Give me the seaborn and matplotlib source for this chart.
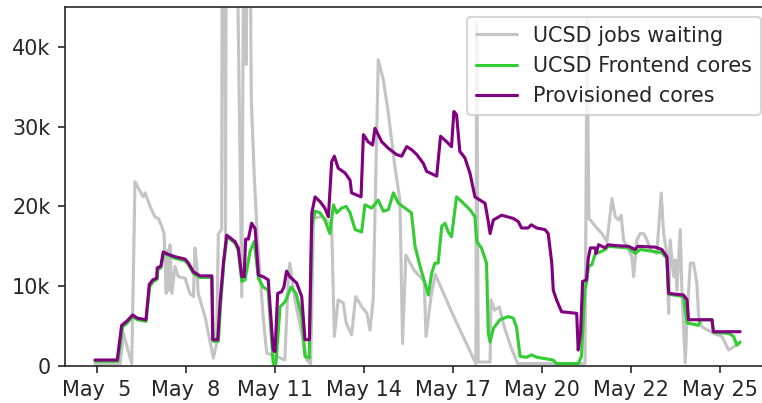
"""
plot.py
-------
UCSD jobs waiting vs frontend / provisioned cores, May 5 - May 25.
"""

import pandas as pd
import matplotlib
matplotlib.use("Agg")
import matplotlib.pyplot as plt
import seaborn as sns
from matplotlib.ticker import FuncFormatter


# ========== Data (x = day of May, y = thousands) ==========

waiting_day = [4.93, 5.78, 5.89, 6.17, 6.28, 6.45, 6.56, 6.62, 6.79, 6.95, 7.07, 7.18,
               7.26, 7.33, 7.38, 7.42, 7.46, 7.52, 7.63, 7.74, 7.97, 8.13, 8.25, 8.3,
               8.36, 8.41, 8.64, 8.92, 9.03, 9.09, 9.2, 9.22, 9.3, 9.33, 9.36, 9.7,
               9.88, 9.95, 10.0, 10.03, 10.06, 10.15, 10.2, 10.3, 10.4, 10.5, 10.6,
               10.72, 11.06, 11.33, 11.45, 11.5, 11.67, 11.9, 12.07, 12.2, 12.3, 12.6,
               12.91, 13.0, 13.13, 13.3, 13.4, 13.58, 13.72, 13.93, 14.1, 14.2, 14.31,
               14.48, 14.65, 14.82, 14.93, 15.04, 15.21, 15.3, 15.41, 15.69, 16.03,
               16.09, 16.26, 16.4, 17.0, 17.77, 17.8, 17.85, 18.25, 18.28, 18.4, 18.56,
               18.73, 18.95, 19.18, 21.45, 21.52, 21.58, 21.63, 21.8, 22.02, 22.19,
               22.36, 22.47, 22.58, 22.67, 22.75, 23.03, 23.09, 23.2, 23.31, 23.43,
               23.54, 23.65, 23.87, 24.02, 24.1, 24.21, 24.27, 24.32, 24.44, 24.49,
               24.55, 24.66, 24.72, 24.83, 24.89, 25.0, 25.11, 25.22, 25.28, 25.39,
               25.78, 26.07, 26.29, 26.46, 26.62]
waiting_k = [0.2, 0.3, 4.1, 0.3, 23.1, 21.9, 21.2, 21.7, 20.0, 18.7, 18.5, 17.5,
             16.6, 9.1, 14.5, 9.5, 15.2, 9.1, 12.5, 11.2, 11.0, 9.1, 8.7, 14.8,
             12.9, 9.1, 6.2, 1.0, 2.8, 16.6, 17.1, 60, 60, 16.0, 60, 60,
             8.7, 60, 60, 37.8, 60, 60, 33.4, 23.8, 16.6, 11.2, 6.2,
             1.6, 1.2, 0.75, 11.2, 12.9, 8.3, 4.1, 0.75, 0.3, 18.5, 18.8,
             17.5, 3.7, 8.3, 7.9, 5.4, 3.9, 8.7, 7.4, 6.6, 4.5, 8.3,
             38.4, 35.9, 31.7, 28.4, 25.0, 20.8, 2.8, 13.9, 12.0, 10.6,
             3.7, 8.7, 11.5, 6.4, 0.3, 43.0, 0.5, 0.5, 8.3, 7.0, 7.4,
             4.9, 2.4, 0.3, 0.3, 43.5, 18.5, 18.3, 17.5, 16.6, 15.6,
             21.0, 18.7, 18.3, 18.9, 15.8, 13.7, 11.2, 15.8, 16.6, 16.6,
             15.8, 14.6, 14.1, 21.7, 16.6, 14.1, 6.6, 15.8, 11.2, 13.3,
             9.5, 17.1, 9.1, 0.4, 6.2, 12.9, 12.9, 10.4, 6.2, 4.9,
             4.1, 3.7, 2.0, 2.4, 2.8]

frontend_day = [4.93, 5.7, 5.86, 6.02, 6.2, 6.36, 6.65, 6.78, 6.9, 7.03, 7.05, 7.15,
                7.25, 7.4, 7.63, 7.97, 8.08, 8.25, 8.47, 8.87, 8.92, 9.09, 9.17, 9.27,
                9.38, 9.65, 9.76, 9.88, 9.99, 10.16, 10.3, 10.44, 10.6, 10.77, 10.94,
                11.03, 11.17, 11.35, 11.54, 11.71, 11.9, 12.01, 12.15, 12.24, 12.35,
                12.52, 12.68, 12.85, 12.97, 13.08, 13.25, 13.4, 13.53, 13.7, 13.92,
                14.03, 14.26, 14.48, 14.65, 14.82, 14.99, 15.16, 15.38, 15.6, 15.72,
                15.89, 16.17, 16.28, 16.39, 16.5, 16.62, 16.73, 16.84, 16.95, 17.12,
                17.35, 17.57, 17.74, 17.8, 17.96, 18.13, 18.19, 18.25, 18.36, 18.58,
                18.86, 19.03, 19.14, 19.26, 19.48, 19.65, 19.82, 20.38, 20.49, 21.22,
                21.33, 21.44, 21.5, 21.57, 21.68, 21.8, 21.97, 22.13, 22.24, 22.92,
                23.14, 23.31, 24.04, 24.21, 24.27, 24.77, 24.89, 25.28, 25.33, 25.73,
                25.78, 26.29, 26.46, 26.57, 26.68]
frontend_k = [0.6, 0.6, 4.9, 5.4, 6.2, 5.8, 5.6, 10.0, 10.6, 10.9, 12.1, 12.3,
              14.1, 13.9, 13.5, 13.2, 12.7, 11.6, 11.1, 11.1, 3.1, 3.1, 7.9, 12.7,
              16.2, 15.4, 14.5, 10.6, 10.8, 14.4, 15.6, 11.0, 9.9, 9.5, 0.3,
              0.3, 7.4, 8.1, 9.9, 9.1, 6.2, 1.2, 1.0, 17.5, 19.4,
              19.2, 18.3, 16.6, 20.2, 19.2, 19.8, 20.0, 19.2, 17.1, 16.8,
              20.2, 19.8, 20.8, 19.4, 19.6, 21.7, 20.4, 19.8, 19.2, 15.0,
              12.5, 8.9, 11.6, 12.9, 12.9, 17.5, 17.9, 16.8, 16.2, 21.2,
              20.4, 19.6, 18.7, 15.6, 14.8, 12.9, 4.1, 3.0, 4.7, 5.8,
              6.2, 6.0, 4.9, 1.2, 1.1, 1.4, 1.1, 0.75, 0.3, 0.3,
              1.2, 9.5, 10.4, 12.5, 12.7, 14.1, 14.3, 14.6, 15.0, 14.8,
              14.1, 14.6, 14.2, 13.5, 9.0, 8.7, 5.4, 5.1, 5.8, 5.8,
              4.2, 4.1, 3.7, 2.6, 3.0]

provisioned_day = [4.93, 5.68, 5.83, 6.0, 6.2, 6.36, 6.65, 6.76, 6.88, 7.01, 7.03, 7.15,
                   7.23, 7.4, 7.63, 7.97, 8.08, 8.25, 8.47, 8.87, 8.9, 9.07, 9.15, 9.26,
                   9.37, 9.65, 9.76, 9.88, 9.96, 10.01, 10.1, 10.21, 10.33, 10.44, 10.6,
                   10.77, 10.94, 11.0, 11.09, 11.22, 11.3, 11.39, 11.5, 11.73, 11.9,
                   12.01, 12.16, 12.24, 12.35, 12.52, 12.68, 12.8, 12.91, 13.0, 13.13,
                   13.36, 13.53, 13.58, 13.9, 13.98, 14.14, 14.29, 14.37, 14.6, 14.82,
                   15.1, 15.27, 15.44, 15.61, 15.78, 16.0, 16.11, 16.45, 16.58, 16.79,
                   16.95, 17.03, 17.12, 17.23, 17.4, 17.57, 17.74, 17.91, 18.08, 18.19,
                   18.25, 18.36, 18.64, 19.03, 19.2, 19.31, 19.53, 19.64, 19.82, 20.1,
                   20.21, 20.33, 20.38, 20.49, 20.66, 21.17, 21.22, 21.3, 21.37, 21.5,
                   21.56, 21.63, 21.8, 21.82, 21.91, 22.13, 22.22, 22.47, 22.92, 23.14,
                   23.23, 23.82, 24.04, 24.21, 24.27, 24.77, 24.89, 24.94, 25.73, 25.78,
                   26.68]
provisioned_k = [0.75, 0.75, 5.1, 5.6, 6.4, 6.0, 5.8, 10.2, 10.8, 11.0, 12.3, 12.5,
                 14.3, 14.0, 13.7, 13.4, 12.9, 11.8, 11.3, 11.3, 3.3, 3.3, 8.1, 12.9,
                 16.4, 15.6, 14.8, 11.2, 11.2, 15.9, 15.9, 17.9, 17.2, 11.4, 11.2,
                 10.8, 2.0, 1.8, 9.1, 9.3, 9.9, 11.9, 11.2, 10.4, 8.7,
                 3.3, 3.3, 19.2, 21.2, 20.6, 19.8, 18.7, 25.6, 26.3, 24.8,
                 24.2, 23.3, 21.7, 21.2, 29.0, 28.1, 27.7, 29.8, 28.1, 27.3,
                 26.5, 26.3, 27.5, 27.1, 26.5, 25.4, 24.4, 23.8, 28.8, 28.1,
                 27.5, 31.9, 31.5, 26.9, 26.1, 24.2, 21.2, 20.8, 20.4, 18.1,
                 16.6, 18.3, 18.9, 18.5, 18.1, 17.3, 17.3, 17.7, 17.3, 17.1,
                 16.6, 12.9, 9.5, 8.3, 6.8, 6.6, 2.0, 4.1, 10.6, 10.8,
                 13.5, 14.8, 14.8, 14.1, 15.2, 14.8, 15.2, 15.1, 15.0, 14.6,
                 15.0, 14.9, 14.6, 13.7, 9.1, 8.9, 8.3, 5.8, 5.8, 4.3,
                 4.3]

tick_days = [5, 8, 11, 14, 17, 20, 23, 26]
tick_labels = ["May  5", "May  8", "May 11", "May 14", "May 17", "May 20", "May 22", "May 25"]

series = [
    ("UCSD jobs waiting", waiting_day, waiting_k, "#c4c4c4"),
    ("UCSD Frontend cores", frontend_day, frontend_k, "#33cc33"),
    ("Provisioned cores", provisioned_day, provisioned_k, "#800080"),
]


# ========== Plot ==========
sns.set_style("ticks")
plt.rcParams["font.family"] = ["DejaVu Sans"]
plt.rcParams["font.size"] = 10

fig = plt.figure(figsize=(762 / 149, 403 / 149), dpi=149)
ax = fig.add_axes([0.0853, 0.0918, 0.9265, 0.8908])

for name, day, val, color in series:
    df = pd.DataFrame({"day": day, "k": val})
    sns.lineplot(data=df, x="day", y="k", ax=ax, color=color, label=name,
                 estimator=None, sort=False, linewidth=1.5)

ax.set_xlim(3.92, 27.72)
ax.set_ylim(0, 45)
ax.set_xticks(tick_days)
ax.set_xticklabels(tick_labels)
ax.set_yticks([0, 10, 20, 30, 40])
ax.yaxis.set_major_formatter(FuncFormatter(lambda v, p: "0" if v == 0 else f"{int(v)}k"))
ax.set_xlabel("")
ax.set_ylabel("")
ax.legend(loc="upper right", fontsize=10)

fig.savefig("out.png", dpi=149)
